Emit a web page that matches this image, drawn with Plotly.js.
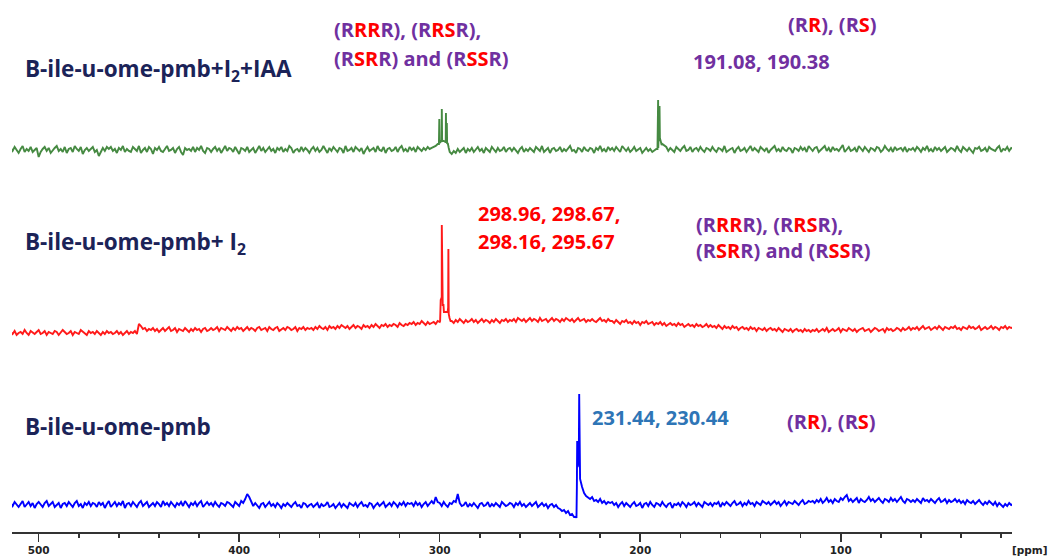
<!DOCTYPE html>
<html>
<head>
<meta charset="utf-8">
<script src="https://cdn.plot.ly/plotly-3.0.1.min.js"></script>
<style>
  html, body { margin: 0; padding: 0; background: #ffffff; }
  #chart { width: 1049px; height: 558px; }
</style>
</head>
<body>
<div id="chart"></div>
<script>
// Sampling grid of the baseline traces: 514 ppm down to 14 ppm, 1 ppm apart
const ppmStart = 514;
const ppmStep = 1;

// Baseline intensities, one value per grid point, 50 ppm per row
const greenBaseline = [
  2,-1,3,0,-3,1,4,-2,1,-1, 3,-2,0,2,-7,-2,1,3,-1,2, -3,0,2,4,-1,1,-2,3,-3,1, 2,-2,4,1,-1,3,-4,0,2,-1, 1,3,-2,0,-6,-2,2,-1,3,1,
  3,-1,1,-3,2,0,4,-2,1,-1, -2,3,1,-1,4,-3,0,2,-2,3, 1,-4,2,0,3,-1,-2,1,4,-1, 0,2,-3,1,3,-2,-5,2,0,1, -1,3,-2,2,0,4,-1,-3,2,1,
  -2,1,3,-1,2,-3,0,4,-1,2, 1,-2,3,0,-4,2,1,-1,3,-2, 0,2,-3,1,4,-1,2,-2,0,3, -1,1,-3,2,0,3,-2,1,-1,4, 2,-3,0,1,-2,3,-1,2,0,-3,
  1,3,-1,2,-2,0,4,1,-3,2, -1,3,0,-2,2,1,-3,4,-1,0, 2,-2,3,1,-1,2,-4,0,3,-1, 1,2,-2,4,0,-1,3,-3,1,2, -1,0,3,-2,2,4,-1,1,-2,3,
  0,2,-2,3,1,-1,2,0,3,1, 2,3,4,6,7,8,9,8,7,-2, -4,-1,-3,1,-2,0,2,-3,1,-1, 2,-2,0,3,-1,1,-3,2,0,-2, 3,1,-2,2,-1,0,3,-2,1,2,
  -1,2,0,-3,1,3,-2,1,-1,2, 0,-2,3,1,-1,4,-2,0,2,-3, 1,2,-1,0,3,-2,1,-1,2,4, -1,0,-3,2,1,-2,3,0,-1,2, 1,-3,2,0,4,-1,1,-2,3,0,
  2,-1,3,0,-2,4,1,-1,2,-2, 0,3,-1,1,2,-3,0,2,-1,1, -2,0,1,2,10,6,4,3,-1,2, 0,-2,3,1,-1,2,4,-1,0,3, -2,1,2,-1,3,0,-2,2,1,-1,
  3,0,-2,2,1,-1,4,-2,0,1, 2,-3,1,3,-1,0,2,-2,1,4, -1,2,0,-2,3,1,-1,2,-3,0, 2,4,-1,1,-2,3,0,-1,2,1, -3,2,1,-1,3,0,2,-2,4,1,
  -1,2,3,-2,0,1,4,-1,2,-2, 3,0,1,-1,2,5,-2,1,3,-1, 0,2,-2,4,1,-1,3,0,-2,2, 1,-1,3,2,-2,0,4,1,-1,2, -2,3,0,1,2,-1,3,-2,1,0,
  2,-1,3,1,-2,2,0,4,-1,1, -2,3,0,2,-1,1,3,-2,0,2, 1,-1,4,0,-2,3,1,-1,2,0, -3,2,1,3,-1,0,2,-2,3,1, 0,-1,2,4,-2,1,0,3,-1,2,
  1
];
const redBaseline = [
  -2,-4,-1,-5,-3,-2,-4,0,-3,-5, -1,-3,-4,-2,0,-4,-3,-1,-5,-2, -3,-4,-1,-2,-5,-3,0,-2,-4,-3, -1,-5,-2,-3,-4,0,-2,-3,-5,-1, -3,-2,-4,-1,-3,-5,-2,-4,-1,-3,
  -2,-4,-3,-1,-4,-2,-5,-3,-1,-4, -2,-3,-1,-4,6,4,1,2,-1,1, 0,2,-1,1,-2,0,2,-1,1,3, -1,0,2,-2,1,0,-1,2,0,-2, 1,-1,2,0,1,-2,1,2,-1,0,
  2,0,1,3,-1,2,1,0,3,1, -1,2,0,3,1,2,-1,1,3,0, 2,1,-1,2,3,0,1,2,-1,3, 1,0,2,3,-1,1,2,0,3,2, 0,1,3,-1,2,1,3,0,2,1,
  2,0,3,1,4,2,1,3,0,4, 2,3,1,4,2,5,3,2,4,1, 3,5,2,4,3,1,5,3,4,2, 5,3,6,4,2,5,4,6,3,5, 4,6,5,3,7,5,4,6,5,7,
  6,8,5,7,6,9,7,5,8,6, 7,8,6,9,8,31,20,18,19,11, 9,7,10,8,11,9,7,10,8,9, 11,8,10,7,9,11,8,10,9,7, 10,8,11,9,7,10,9,11,8,10,
  9,11,8,12,10,9,11,8,10,12, 9,11,10,8,12,9,10,11,8,10, 12,9,11,10,8,11,9,12,10,9, 11,8,10,12,9,10,11,8,10,9, 11,9,8,10,12,9,10,8,11,9,
  9,7,10,8,6,9,8,10,7,8, 6,9,7,8,5,8,7,9,6,7, 8,5,7,6,8,5,7,4,6,7, 5,6,4,7,5,6,3,5,6,4, 5,3,6,4,5,3,4,6,3,5,
  3,4,2,5,3,1,4,2,3,1, 4,2,3,0,2,3,1,2,0,3, 1,2,-1,2,1,0,2,-1,1,2, 0,1,-1,2,0,-2,1,0,-1,1, -2,0,1,-1,0,-2,1,-1,0,-2,
  0,-1,1,-2,0,1,-1,2,-2,0, 1,-1,0,2,-2,1,0,-1,2,0, -1,1,-2,0,1,2,-1,0,1,-2, 0,2,1,-1,0,1,-2,2,0,1, -1,0,2,1,-1,2,0,1,3,0,
  2,1,3,0,2,4,1,2,3,0, 2,3,1,4,2,0,3,2,1,3, 2,4,1,2,0,3,2,1,4,2, 3,1,2,4,0,2,3,1,2,4, 1,3,2,0,3,2,4,1,3,2,
  3
];
const blueBaseline = [
  2,-1,3,0,-2,1,4,-2,1,3, -1,2,-3,1,3,0,-2,2,4,-1, 1,3,-2,0,2,-3,1,2,-1,3, 0,-2,2,4,-1,1,-3,2,0,3, -1,2,1,-2,3,0,2,-3,1,4,
  -2,1,3,-1,2,0,4,-3,1,2, -1,3,0,-2,2,4,-1,1,3,-2, 0,2,-1,3,1,-2,4,0,2,-1, 3,1,-2,2,0,3,-1,4,1,-2, 2,0,3,-1,2,4,-2,1,3,0,
  2,-1,3,0,-2,2,1,-1,3,2, 0,-2,3,1,-1,4,2,6,11,8, 3,-1,2,0,-3,1,2,-2,0,3, -1,1,-2,2,0,-3,1,-1,2,0, -2,1,3,-1,0,-3,2,1,-2,0,
  1,-2,0,2,-3,1,-1,0,3,-2, -1,1,-3,0,2,-2,1,-1,-3,2, 0,-1,2,-2,1,3,-1,0,-2,2, 1,-3,0,2,-1,1,3,-2,0,2, -1,3,1,-2,2,0,3,-1,2,1,
  2,-1,3,0,2,-2,1,3,-1,2, 4,1,8,3,2,-1,3,0,-2,2, 1,4,3,11,2,-1,0,3,-2,1, -1,2,0,-3,1,2,-1,0,3,-2, 1,-1,2,0,-2,3,1,-1,0,2,
  1,-2,2,0,3,-1,1,-2,0,2, -1,1,3,-2,0,2,-1,1,-3,0, 1,-2,0,-3,-4,-6,-5,-8,-6,-10, -9,-12,-12,40,26,18,12,9,7,6, 8,4,5,3,6,2,4,1,3,2,
  3,0,2,-2,1,3,-1,2,0,-2, 1,3,-1,0,2,-3,1,2,-1,3, 0,-2,2,1,-1,3,0,-2,1,2, -3,1,0,2,-1,3,1,-2,2,0, 1,3,-1,2,0,-2,3,1,0,2,
  -1,2,1,3,-2,2,0,3,1,-1, 2,4,0,1,3,-1,2,0,4,1, 2,-1,3,1,0,4,2,1,3,0, 2,4,1,3,-1,2,4,0,3,2, 1,4,2,0,3,5,1,2,4,3,
  4,2,5,3,6,2,4,7,3,5, 2,6,4,3,7,5,8,10,4,6, 3,5,7,2,6,4,3,5,8,4, 6,3,5,7,4,2,6,5,3,7, 4,6,3,5,8,4,2,6,5,3,
  5,3,6,4,2,7,4,5,3,6, 4,2,5,7,3,4,6,2,5,3, 4,6,3,5,2,4,1,5,3,2, 4,1,3,5,2,0,3,1,4,2, 0,3,-1,2,0,-2,1,-1,2,0,
  1
];

// Resonance lines (ppm, intensity)
const greenPeakPpm = [300.4, 300.2, 300.05, 299.3, 298.96, 298.8, 298.4, 297.1, 296.9, 296.75, 296.45, 296.3, 295.5,
                      191.4, 191.08, 190.9, 190.38, 190.2, 189.6, 189.3];
const greenPeakVal = [6, 31, 8, 9, 41, 10, 9, 8, 37, 10, 27, 6, 2,
                      1, 50, 10, 44, 12, 8, 5];
const redPeakPpm = [299.8, 299.5, 299.1, 298.96, 298.85, 298.67, 298.5, 298.16, 297.9, 296.2, 295.8, 295.67, 295.5, 295.1, 294.6];
const redPeakVal = [9, 30, 32, 105, 32, 73, 24, 26, 18, 18, 22, 81, 16, 12, 9];
const bluePeakPpm = [231.8, 231.6, 231.44, 231.2, 230.9, 230.6, 230.44, 230.25, 230.1];
const bluePeakVal = [-13, 18, 64, 38, 44, 58, 111, 45, 28];

// Tick values of the ppm axis
const majorTicks = [500, 400, 300, 200, 100];
const majorTickText = ['500', '400', '300', '200', '100'];

// Sample labels
const sampleNames = ['B-ile-u-ome-pmb+I<sub>2</sub>+IAA', 'B-ile-u-ome-pmb+ I<sub>2</sub>', 'B-ile-u-ome-pmb'];
const greenShifts = '191.08, 190.38';
const redShifts = ['298.96, 298.67,', '298.16, 295.67'];
const blueShifts = '231.44, 230.44';

const PURPLE = '#7030a0';
const RED = '#ff0000';
const NAVY = '#1b2358';

function red(s) { return '<span style="color:' + RED + '">' + s + '</span>'; }
const isomers4 = ['(R' + red('RR') + 'R), (R' + red('RS') + 'R),', '(R' + red('SR') + 'R) and (R' + red('SS') + 'R)'];
const isomers2 = '(R' + red('R') + '), (R' + red('S') + ')';

// Merge a baseline with its resonance lines, ordered by ppm (descending)
function spectrum(base, peakPpm, peakVal) {
  const pts = base.map((v, i) => [ppmStart - i * ppmStep, v]);
  peakPpm.forEach((p, i) => pts.push([p, peakVal[i]]));
  pts.sort((a, b) => b[0] - a[0]);
  return { x: pts.map(p => p[0]), y: pts.map(p => p[1]) };
}

const g = spectrum(greenBaseline, greenPeakPpm, greenPeakVal);
const r = spectrum(redBaseline, redPeakPpm, redPeakVal);
const b = spectrum(blueBaseline, bluePeakPpm, bluePeakVal);

const traces = [
  { x: b.x, y: b.y, xaxis: 'x', yaxis: 'y', mode: 'lines', line: { color: '#0000ff', width: 1.9 }, hoverinfo: 'skip' },
  { x: r.x, y: r.y, xaxis: 'x', yaxis: 'y2', mode: 'lines', line: { color: '#ff1a1a', width: 1.9 }, hoverinfo: 'skip' },
  { x: g.x, y: g.y, xaxis: 'x', yaxis: 'y3', mode: 'lines', line: { color: '#468a42', width: 1.9 }, hoverinfo: 'skip' }
];

// Plot area: 1000 x 532 px
const PW = 1000, PH = 532, ML = 12;
function ann(text, px, py, size, color, xanchor) {
  return {
    xref: 'paper', yref: 'paper',
    x: (px - ML) / PW, y: (PH - py) / PH,
    xanchor: xanchor || 'left', yanchor: 'middle',
    text: '<b>' + text + '</b>', showarrow: false,
    font: { family: 'Open Sans, sans-serif', size: size, color: color }
  };
}

const annotations = [
  ann(sampleNames[0], 23, 70, 22.5, NAVY),
  ann(isomers4[0], 332, 30, 20, PURPLE),
  ann(isomers4[1], 332, 58, 20, PURPLE),
  ann(isomers2, 786, 24, 20, PURPLE),
  ann(greenShifts, 691, 62, 20, PURPLE),

  ann(sampleNames[1], 23, 243, 22.5, NAVY),
  ann(redShifts[0], 476, 214, 20, RED),
  ann(redShifts[1], 476, 241, 20, RED),
  ann(isomers4[0], 694, 224, 20, PURPLE),
  ann(isomers4[1], 694, 251, 20, PURPLE),

  ann(sampleNames[2], 23, 426, 22.5, NAVY),
  ann(blueShifts, 590, 417, 20, '#2e75b6'),
  ann(isomers2, 785, 421, 20, PURPLE),

  { xref: 'paper', yref: 'paper', x: (1030 - ML) / PW, y: (PH - 550) / PH, xanchor: 'center', yanchor: 'middle',
    text: '<b>[ppm]</b>', showarrow: false, font: { family: 'DejaVu Sans, sans-serif', size: 10.5, color: '#222' } }
];

const hiddenY = { visible: false, showgrid: false, zeroline: false, fixedrange: true };

const layout = {
  width: 1049, height: 558,
  margin: { l: ML, r: 37, t: 0, b: 26 },
  paper_bgcolor: '#ffffff', plot_bgcolor: '#ffffff',
  showlegend: false,
  xaxis: {
    range: [513.3, 14.6], domain: [0, 1], anchor: 'y',
    showgrid: false, zeroline: false,
    showline: true, linecolor: '#333', linewidth: 1.5,
    ticks: 'outside', ticklen: 8, tickwidth: 1.5, tickcolor: '#333',
    tickvals: majorTicks, ticktext: majorTickText,
    tickfont: { family: 'DejaVu Sans, sans-serif', size: 10.5, color: '#222', weight: 'bold' },
    minor: { dtick: 20, tick0: 0, ticks: 'outside', ticklen: 4, tickwidth: 1.5, tickcolor: '#333', showgrid: false }
  },
  yaxis: Object.assign({ domain: [0, 0.3], range: [-27, 132.6], anchor: 'x' }, hiddenY),
  yaxis2: Object.assign({ domain: [0.3, 0.62], range: [-42.4, 127.8], anchor: 'x' }, hiddenY),
  yaxis3: Object.assign({ domain: [0.62, 1], range: [-52.2, 150], anchor: 'x' }, hiddenY),
  annotations: annotations
};

Plotly.newPlot('chart', traces, layout, { staticPlot: true, displayModeBar: false });
</script>
</body>
</html>
